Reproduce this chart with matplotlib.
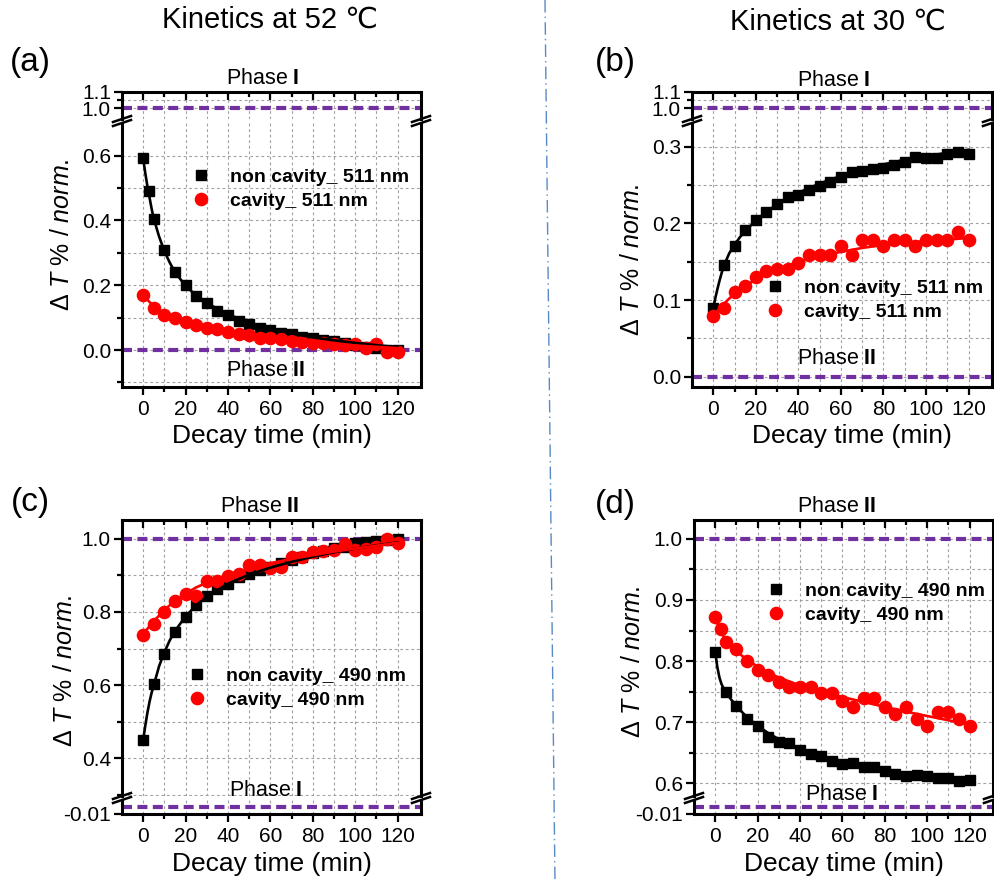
import matplotlib
matplotlib.use("Agg")
import matplotlib.pyplot as plt
from matplotlib.lines import Line2D

W, H = 995, 882

plt.rcParams["font.family"] = ["Liberation Sans", "DejaVu Sans"]
plt.rcParams["mathtext.fontset"] = "custom"
plt.rcParams["mathtext.rm"] = "Liberation Sans"
plt.rcParams["mathtext.it"] = "Liberation Sans:italic"
plt.rcParams["mathtext.bf"] = "Liberation Sans:bold"

PURPLE = "#7030a0"
GRID = "#a0a0a0"

# ---- data ----
T5 = [0, 5, 10, 15, 20, 25, 30, 35, 40, 45, 50, 55, 60,
      65, 70, 75, 80, 85, 90, 95, 100, 105, 110, 115, 120]
T5_EARLY = [0, 2.5, 5, 10, 15, 20, 25, 30, 35, 40, 45, 50, 55, 60,
            65, 70, 75, 80, 85, 90, 95, 100, 105, 110, 115, 120]
FIT_T = [0, 1, 2, 3, 4, 5, 7.5, 10, 12.5, 15, 20, 25, 30,
         40, 50, 60, 70, 80, 90, 100, 110, 120]

# (a) 52 C, 511 nm
a_sq = [0.594, 0.490, 0.404, 0.308, 0.240, 0.200, 0.166, 0.145, 0.122, 0.109,
        0.090, 0.080, 0.069, 0.062, 0.054, 0.049, 0.041, 0.036, 0.031, 0.028,
        0.021, 0.016, 0.010, 0.005, 0.000, 0.000]
a_ci = [0.171, 0.130, 0.109, 0.098, 0.088, 0.078, 0.067, 0.065, 0.057, 0.049,
        0.047, 0.036, 0.036, 0.033, 0.028, 0.026, 0.022, 0.021, 0.018, 0.016,
        0.018, 0.005, 0.018, -0.005, -0.005]
a_sq_fit = [0.590, 0.545, 0.505, 0.470, 0.435, 0.405, 0.350, 0.305, 0.270, 0.240,
            0.198, 0.168, 0.145, 0.110, 0.085, 0.066, 0.051, 0.039, 0.030, 0.022,
            0.015, 0.009]
a_ci_fit = [0.170, 0.162, 0.155, 0.148, 0.142, 0.136, 0.123, 0.113, 0.105, 0.099,
            0.088, 0.078, 0.070, 0.057, 0.046, 0.038, 0.030, 0.024, 0.019, 0.014,
            0.010, 0.006]

# (b) 30 C, 511 nm
b_sq = [0.090, 0.146, 0.171, 0.192, 0.205, 0.215, 0.225, 0.235, 0.237, 0.243,
        0.249, 0.254, 0.260, 0.267, 0.268, 0.271, 0.272, 0.276, 0.280, 0.287,
        0.285, 0.285, 0.290, 0.293, 0.291]
b_ci = [0.079, 0.090, 0.111, 0.119, 0.130, 0.138, 0.141, 0.140, 0.148, 0.159,
        0.159, 0.159, 0.170, 0.159, 0.178, 0.178, 0.170, 0.178, 0.178, 0.170,
        0.178, 0.178, 0.178, 0.189, 0.178]
b_sq_fit = [0.090, 0.103, 0.115, 0.126, 0.136, 0.145, 0.161, 0.172, 0.182, 0.190,
            0.204, 0.215, 0.225, 0.240, 0.252, 0.262, 0.270, 0.277, 0.283, 0.288,
            0.292, 0.296]
b_ci_fit = [0.080, 0.083, 0.086, 0.089, 0.092, 0.095, 0.102, 0.108, 0.113, 0.118,
            0.127, 0.134, 0.140, 0.150, 0.157, 0.163, 0.168, 0.172, 0.175, 0.177,
            0.179, 0.181]

# (c) 52 C, 490 nm
c_sq = [0.451, 0.603, 0.686, 0.746, 0.786, 0.818, 0.843, 0.862, 0.877, 0.895,
        0.903, 0.915, 0.924, 0.933, 0.942, 0.951, 0.960, 0.967, 0.974, 0.978,
        0.989, 0.992, 0.995, 0.996, 0.999]
c_ci = [0.738, 0.766, 0.800, 0.831, 0.850, 0.843, 0.885, 0.885, 0.899, 0.904,
        0.927, 0.927, 0.921, 0.924, 0.951, 0.951, 0.963, 0.967, 0.969, 0.985,
        0.969, 0.972, 0.978, 1.000, 0.989]
c_sq_fit = [0.451, 0.490, 0.525, 0.555, 0.580, 0.600, 0.652, 0.690, 0.722, 0.748,
            0.788, 0.818, 0.842, 0.877, 0.902, 0.921, 0.937, 0.951, 0.963, 0.973,
            0.982, 0.990]
c_ci_fit = [0.740, 0.747, 0.754, 0.761, 0.768, 0.775, 0.790, 0.805, 0.818, 0.830,
            0.850, 0.867, 0.880, 0.902, 0.919, 0.933, 0.945, 0.955, 0.965, 0.973,
            0.981, 0.989]

# (d) 30 C, 490 nm
d_sq = [0.815, 0.750, 0.727, 0.705, 0.694, 0.676, 0.668, 0.666, 0.655, 0.648,
        0.645, 0.637, 0.632, 0.633, 0.626, 0.626, 0.620, 0.615, 0.611, 0.614,
        0.611, 0.609, 0.609, 0.603, 0.606]
d_ci = [0.872, 0.853, 0.832, 0.819, 0.800, 0.786, 0.777, 0.766, 0.758, 0.758,
        0.758, 0.747, 0.747, 0.735, 0.725, 0.739, 0.739, 0.725, 0.713, 0.725,
        0.705, 0.694, 0.717, 0.717, 0.705, 0.694]
d_sq_fit = [0.815, 0.790, 0.773, 0.762, 0.755, 0.749, 0.737, 0.727, 0.717, 0.708,
            0.694, 0.682, 0.672, 0.657, 0.645, 0.636, 0.628, 0.622, 0.616, 0.612,
            0.608, 0.605]
d_ci_fit = [0.870, 0.862, 0.853, 0.846, 0.840, 0.834, 0.824, 0.816, 0.809, 0.802,
            0.791, 0.781, 0.773, 0.760, 0.750, 0.741, 0.733, 0.725, 0.717, 0.710,
            0.703, 0.696]

X_MAJOR = [0, 20, 40, 60, 80, 100, 120]
X_MINOR = [10, 30, 50, 70, 90, 110]


def fx(px):
    return px / W


def fy(py):
    return 1 - py / H


def seg_axes(fig, x0, x1, ya, yb, ylim, yticks, ylabels, yminor, upper):
    ax = fig.add_axes([fx(x0), fy(yb), (x1 - x0) / W, (yb - ya) / H])
    ax.set_xlim(-10, 131)
    ax.set_ylim(*ylim)
    ax.set_xticks(X_MAJOR)
    ax.set_xticks(X_MINOR, minor=True)
    ax.set_yticks(yticks, ylabels)
    ax.set_yticks(yminor, minor=True)
    ax.grid(True, which="both", color=GRID, lw=0.8, ls=(0, (2.5, 2.5)))
    ax.set_axisbelow(True)
    for s in ax.spines.values():
        s.set_linewidth(2.2)
    ax.tick_params(axis="y", which="both", left=True, right=False,
                   direction="out", labelsize=15, width=1.6, pad=2)
    ax.tick_params(axis="y", which="major", length=6)
    ax.tick_params(axis="y", which="minor", length=3.5)
    if upper:
        ax.spines["bottom"].set_visible(False)
        ax.tick_params(axis="x", which="both", top=True, bottom=False,
                       labelbottom=False, direction="in", width=1.6)
    else:
        ax.spines["top"].set_visible(False)
        ax.tick_params(axis="x", which="both", top=False, bottom=True,
                       direction="out", labelsize=15, width=1.6)
    ax.tick_params(axis="x", which="major", length=6)
    ax.tick_params(axis="x", which="minor", length=3.5)
    return ax


def draw_series(ax, t_sq, sq, t_ci, ci, sq_fit, ci_fit, phases):
    for p in phases:
        ax.axhline(p, color=PURPLE, lw=3.0, ls=(0, (2.4, 1.3)), zorder=2)
    hs, = ax.plot(t_sq, sq, ls="none", marker="s", ms=7.5, color="black", zorder=3)
    hc, = ax.plot(t_ci, ci, ls="none", marker="o", ms=8.8, color="red", zorder=4)
    ax.plot(FIT_T, sq_fit, color="black", lw=1.9, zorder=5)
    ax.plot(FIT_T, ci_fit, color="red", lw=1.9, zorder=5)
    return hs, hc


def draw_break(fig, x, y_a, y_b):
    for y in (y_a, y_b):
        fig.add_artist(Line2D([fx(x - 9), fx(x + 9)], [fy(y + 3), fy(y - 3)],
                              transform=fig.transFigure, color="black", lw=1.8))


def add_legend(fig, ax, handles, labels, mx, my):
    ax.legend(handles, labels, loc="center left",
              bbox_to_anchor=(fx(mx - 9.7), fy(my)), bbox_transform=fig.transFigure,
              frameon=False, prop=dict(weight="bold", size=14),
              handlelength=1.0, handletextpad=1.0, labelspacing=0.35,
              borderpad=0, borderaxespad=0)


def phase(fig, x, y, numeral):
    fig.text(fx(x), fy(y), r"Phase $\mathbf{" + numeral + "}$",
             ha="center", va="center", fontsize=15.5)


fig = plt.figure(figsize=(W / 100, H / 100), dpi=100)

YLABEL = r"Δ $\mathit{T}$ % $\mathit{/\ norm.}$"

# ---------- (a) ----------
top_ticks = ([1.0, 1.1], ["1.0", "1.1"], [1.05])
ax_up = seg_axes(fig, 122, 421, 91.7, 119, (0.9355, 1.1005), *top_ticks, upper=True)
ax_lo = seg_axes(fig, 122, 421, 123, 387, (-0.114, 0.7006),
                 [0.0, 0.2, 0.4, 0.6], ["0.0", "0.2", "0.4", "0.6"],
                 [-0.1, 0.1, 0.3, 0.5], upper=False)
for ax in (ax_up, ax_lo):
    hs, hc = draw_series(ax, T5_EARLY, a_sq, T5, a_ci, a_sq_fit, a_ci_fit, [0.0, 1.0])
add_legend(fig, ax_lo, [hs, hc], ["non cavity_ 511 nm", "cavity_ 511 nm"], 201, 189)
draw_break(fig, 122, 119, 123)
draw_break(fig, 421, 119, 123)
phase(fig, 263, 79, "I")
phase(fig, 266, 370, "II")

# ---------- (b) ----------
ax_up = seg_axes(fig, 692, 992, 91.7, 119, (0.9355, 1.1005), *top_ticks, upper=True)
ax_lo = seg_axes(fig, 692, 992, 123, 387, (-0.0134, 0.331),
                 [0.0, 0.1, 0.2, 0.3], ["0.0", "0.1", "0.2", "0.3"],
                 [0.05, 0.15, 0.25], upper=False)
for ax in (ax_up, ax_lo):
    hs, hc = draw_series(ax, T5, b_sq, T5, b_ci, b_sq_fit, b_ci_fit, [0.0, 1.0])
add_legend(fig, ax_lo, [hs, hc], ["non cavity_ 511 nm", "cavity_ 511 nm"], 775, 300)
draw_break(fig, 692, 119, 123)
draw_break(fig, 992, 119, 123)
phase(fig, 834, 80, "I")
phase(fig, 837, 358, "II")

# ---------- (c) ----------
ax_up = seg_axes(fig, 122, 421, 520, 796, (0.297, 1.0511),
                 [0.4, 0.6, 0.8, 1.0], ["0.4", "0.6", "0.8", "1.0"],
                 [0.3, 0.5, 0.7, 0.9], upper=True)
ax_lo = seg_axes(fig, 122, 421, 800, 814, (-0.0102, 0.0092),
                 [-0.01], ["-0.01"], [], upper=False)
for ax in (ax_up, ax_lo):
    hs, hc = draw_series(ax, T5, c_sq, T5, c_ci, c_sq_fit, c_ci_fit, [0.0, 1.0])
add_legend(fig, ax_up, [hs, hc], ["non cavity_ 490 nm", "cavity_ 490 nm"], 197, 688)
draw_break(fig, 122, 796, 800)
draw_break(fig, 421, 796, 800)
phase(fig, 260, 507, "II")
phase(fig, 266, 790, "I")

# ---------- (d) ----------
ax_up = seg_axes(fig, 694, 993, 520, 796, (0.579, 1.031),
                 [0.6, 0.7, 0.8, 0.9, 1.0], ["0.6", "0.7", "0.8", "0.9", "1.0"],
                 [0.65, 0.75, 0.85, 0.95], upper=True)
ax_lo = seg_axes(fig, 694, 993, 800, 814, (-0.0102, 0.0092),
                 [-0.01], ["-0.01"], [], upper=False)
for ax in (ax_up, ax_lo):
    hs, hc = draw_series(ax, T5, d_sq, T5_EARLY, d_ci, d_sq_fit, d_ci_fit, [0.0, 1.0])
add_legend(fig, ax_up, [hs, hc], ["non cavity_ 490 nm", "cavity_ 490 nm"], 776, 603)
draw_break(fig, 694, 796, 800)
draw_break(fig, 993, 796, 800)
phase(fig, 837, 507, "II")
phase(fig, 842, 795, "I")

# ---------- shared text ----------
for x, y in [(62, 235), (632, 260), (65, 671), (633, 662)]:
    fig.text(fx(x), fy(y), YLABEL, rotation=90, ha="center", va="center", fontsize=18)
for x, y in [(272, 436), (852, 436), (272, 864), (844, 864)]:
    fig.text(fx(x), fy(y), "Decay time (min)", ha="center", va="center", fontsize=19)
for x, y, s in [(30, 62, "(a)"), (615, 62, "(b)"), (30, 503, "(c)"), (615, 505, "(d)")]:
    fig.text(fx(x), fy(y), s, ha="center", va="center", fontsize=24)
fig.text(fx(270), fy(20), "Kinetics at 52 ℃", ha="center", va="center", fontsize=21)
fig.text(fx(838), fy(22), "Kinetics at 30 ℃", ha="center", va="center", fontsize=21)

fig.add_artist(Line2D([fx(545), fx(555)], [1, 0], transform=fig.transFigure,
                      color="#5a8ac6", lw=1.0, ls=(0, (9, 3, 1, 3))))

fig.savefig("out.png", dpi=100)
